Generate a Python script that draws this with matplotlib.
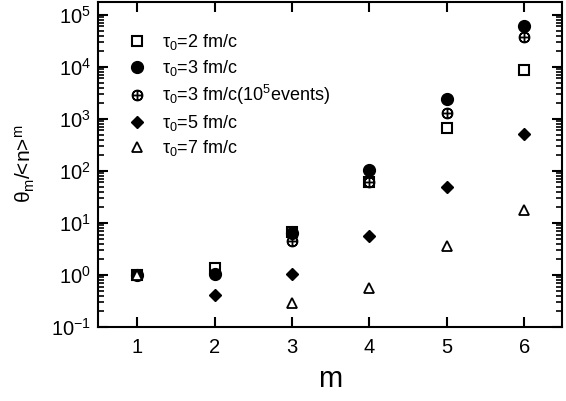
import numpy as np
import matplotlib.pyplot as plt
from matplotlib.ticker import LogLocator, NullFormatter

plt.rcParams['font.family'] = ['Liberation Sans', 'DejaVu Sans']
plt.rcParams['mathtext.fontset'] = 'custom'
plt.rcParams['mathtext.rm'] = 'Liberation Sans'
plt.rcParams['mathtext.it'] = 'Liberation Sans'
plt.rcParams['mathtext.bf'] = 'Liberation Sans:bold'

m = np.array([1, 2, 3, 4, 5, 6])
m_tri = np.array([1, 3, 4, 5, 6])

tau2 = [1.0, 1.36, 6.8, 60, 680, 8700]
tau3 = [1.0, 1.05, 6.5, 105, 2450, 62000]
tau3_big = [1.0, 1.05, 4.5, 62, 1320, 38000]
tau5 = [1.0, 0.41, 1.05, 5.7, 49, 515]
tau7 = [1.0, 0.29, 0.57, 3.6, 17.8]

labels = ['τ$_0$=2 fm/c', 'τ$_0$=3 fm/c', 'τ$_0$=3 fm/c(10$^5$events)',
          'τ$_0$=5 fm/c', 'τ$_0$=7 fm/c']

fig = plt.figure(figsize=(5.66, 4.01), dpi=100)
ax = fig.add_axes([0.173, 0.1845, 0.82, 0.8115])

ax.plot(m, tau2, ls='none', marker='s', ms=7, mfc='white', mec='black', mew=1.5, label=labels[0])
ax.plot(m, tau3, ls='none', marker='o', ms=8.5, color='black', label=labels[1])
ax.plot(m, tau3_big, ls='none', marker=r'$\oplus$', ms=7.5, color='black', label=labels[2])
ax.plot(m, tau5, ls='none', marker='D', ms=6.5, color='black', label=labels[3])
ax.plot(m_tri, tau7, ls='none', marker='^', ms=7.5, mfc='white', mec='black', mew=1.3, label=labels[4])

ax.set_yscale('log')
ax.set_ylim(0.1, 1.8e5)
ax.set_xlim(0.49, 6.49)
ax.set_xticks(m)
ax.yaxis.set_major_locator(LogLocator(base=10, numticks=10))
ax.yaxis.set_minor_locator(LogLocator(base=10, subs=np.arange(2, 10), numticks=20))
ax.yaxis.set_minor_formatter(NullFormatter())

for s in ax.spines.values():
    s.set_linewidth(1.5)
ax.tick_params(which='both', direction='in', top=True, right=True, labelsize=14.5, width=1.5)
ax.tick_params(which='major', length=7)
ax.tick_params(which='minor', length=4, width=1.2)
ax.tick_params(axis='x', which='minor', top=False, bottom=False)
ax.tick_params(axis='x', pad=8)
ax.tick_params(axis='y', pad=5)

ax.set_xlabel('m', fontsize=21, labelpad=6)
ax.set_ylabel('θ$_m$/<n>$^m$', fontsize=15, labelpad=10)

ax.legend(loc='upper left', bbox_to_anchor=(0.025, 0.955), frameon=False, fontsize=13,
          handletextpad=0.8, labelspacing=0.3, handlelength=1.2)

fig.savefig('out.png')
